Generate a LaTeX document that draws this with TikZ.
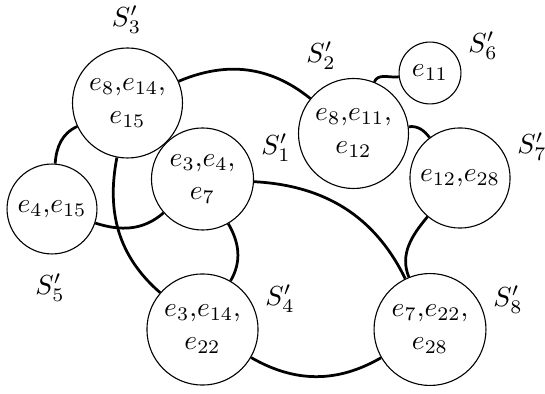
\documentclass[tikz,border=0pt]{standalone}
\begin{document}
\begin{tikzpicture}[x=0.3636pt,y=0.3636pt,
  set/.style={circle,draw,line width=0.4pt,inner sep=0pt,align=center,minimum size=#1},
  link/.style={line width=1pt},
  lab/.style={inner sep=0pt}]
\useasboundingbox (0,-394) rectangle (545,0);
% sets
\node[set=40pt]   (s3) at (127.5,-103)  {$e_8$,$e_{14}$,\\$e_{15}$};
\node[set=37.1pt] (s1) at (202.5,-179)  {$e_3$,$e_4$,\\$e_7$};
\node[set=32.7pt] (s5) at (52,-209)     {$e_4$,$e_{15}$};
\node[set=40pt]   (s2) at (353.5,-133.5){$e_8$,$e_{11}$,\\$e_{12}$};
\node[set=22.5pt] (s6) at (430,-73)     {$e_{11}$};
\node[set=36.4pt] (s7) at (460,-178)    {$e_{12}$,$e_{28}$};
\node[set=40.4pt] (s4) at (202.5,-329.5){$e_3$,$e_{14}$,\\$e_{22}$};
\node[set=40.7pt] (s8) at (430,-329.5)  {$e_7$,$e_{22}$,\\$e_{28}$};
% labels
\node[lab] (l3) at (126.5,-19.5) {$S'_3$};
\node[lab] (l2) at (321,-56)   {$S'_2$};
\node[lab] (l6) at (483,-46)   {$S'_6$};
\node[lab] (l1) at (276,-148)  {$S'_1$};
\node[lab] (l7) at (532,-147)  {$S'_7$};
\node[lab] (l5) at (50,-288)   {$S'_5$};
\node[lab] (l4) at (280,-299)  {$S'_4$};
\node[lab] (l8) at (508,-300)  {$S'_8$};
% connectors
\draw[link] (s3) to[out=23,in=141] (s2);
\draw[link] (s2) to[out=68,in=187] (s6);
\draw[link] (s2) to[out=7,in=127] (s7);
\draw[link] (s7) to[out=230,in=112] (s8);
\draw[link] (s1) to[out=-3,in=116] (s8);
\draw[link] (s4) to[out=-30,in=210] (s8);
\draw[link] (s1) to[out=-60,in=60] (s4);
\draw[link] (s3) to[out=-101,in=139] (s4);
\draw[link] (s3) to[out=205,in=86] (s5);
\draw[link] (s5) to[out=-18,in=221] (s1);
\end{tikzpicture}
\end{document}
